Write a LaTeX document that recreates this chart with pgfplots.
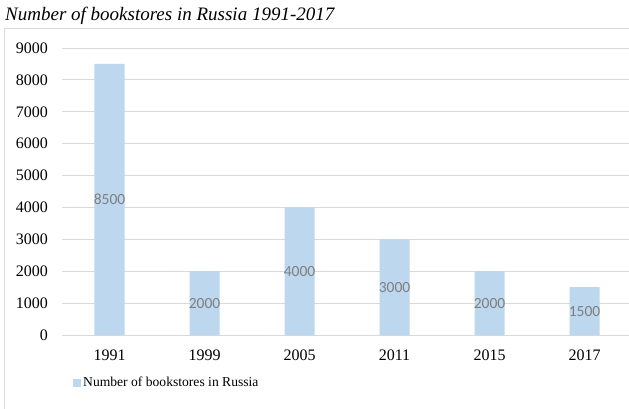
\documentclass[border=0pt]{standalone}
\usepackage{fontspec}
\setmainfont{Liberation Serif}
\newfontfamily\carlito{Carlito}
\usepackage{pgfplots}
\pgfplotsset{compat=1.18}
\definecolor{barblue}{HTML}{BDD7EE}
\definecolor{gridgray}{HTML}{D9D9D9}
\definecolor{labgray}{HTML}{7F7F7F}
\begin{document}
\begin{tikzpicture}[x=1pt,y=1pt]
  \clip (0,0) rectangle (629,408);
  \fill[white] (0,0) rectangle (629,408);
  % chart frame (cut off on the right and bottom)
  \draw[gridgray, line width=1pt] (4,-5) -- (4,379) -- (640,379);
  \node[anchor=base west, inner sep=0pt, font=\fontsize{19}{21}\selectfont\itshape]
    at (5,387) {Number of bookstores in Russia 1991-2017};
  \begin{axis}[
      at={(62pt,73pt)}, anchor=south west,
      scale only axis, width=570pt, height=287pt,
      xmin=-0.5, xmax=5.5, ymin=0, ymax=9000,
      ytick={0,1000,...,9000},
      xtick={0,1,2,3,4,5},
      xticklabels={1991,1999,2005,2011,2015,2017},
      scaled ticks=false,
      /pgf/number format/1000 sep={},
      /pgf/number format/assume math mode=true,
      tick label style={font=\fontsize{16}{16}\selectfont, inner sep=0pt},
      yticklabel style={anchor=east, xshift=-14pt},
      xticklabel style={anchor=base, yshift=-25pt},
      major tick length=0pt,
      axis line style={draw=none},
      ymajorgrids,
      major grid style={gridgray, line width=0.9pt},
      clip=false,
      legend style={at={(axis description cs:0.0193,-0.167)}, anchor=west,
        draw=none, fill=none, inner sep=0pt,
        font=\fontsize{13.6}{14}\selectfont},
      legend cell align=left,
      legend image code/.code={\path[#1] (0pt,-4pt) rectangle (8pt,4pt);},
    ]
    \draw[gridgray, line width=0.9pt] (axis cs:-0.5,0) -- (axis cs:5.5,0);
    \addplot[ybar, bar width=30pt, fill=barblue, draw=none,
      visualization depends on=rawy \as \rawy,
      nodes near coords,
      nodes near coords style={anchor=center, font=\carlito\fontsize{15.5}{16}\selectfont,
        text=labgray, shift={(axis direction cs:0,-\rawy/2)}},
      /pgf/number format/assume math mode=true]
      coordinates {(0,8500) (1,2000) (2,4000) (3,3000) (4,2000) (5,1500)};
    \addlegendentry{Number of bookstores in Russia}
  \end{axis}
\end{tikzpicture}
\end{document}
